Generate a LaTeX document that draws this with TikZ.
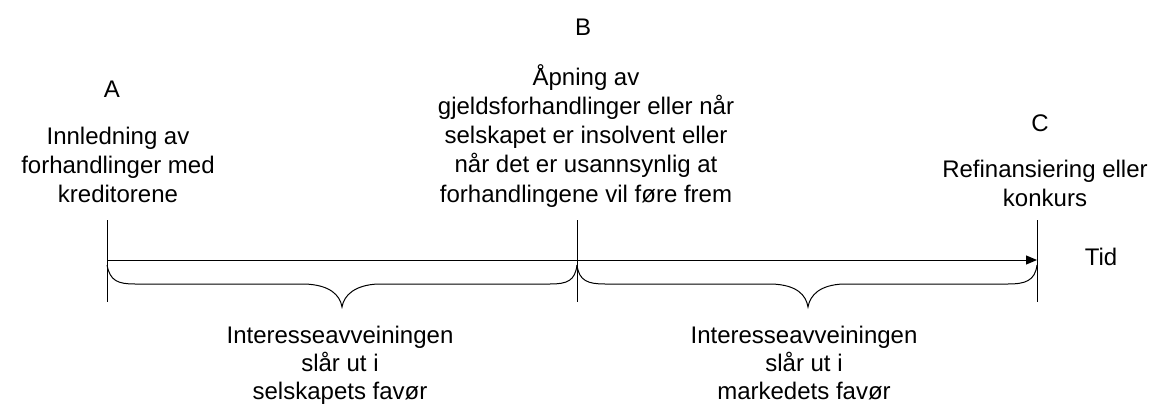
\documentclass[tikz,border=0pt]{standalone}
\usepackage{fontspec}
\setmainfont{Liberation Sans}
\usetikzlibrary{arrows.meta}
\begin{document}
\begin{tikzpicture}[x=1pt,y=-1pt,
  txt/.style={font=\fontsize{24}{29}\selectfont, inner sep=0pt, anchor=base},
  tick/.style={line width=1pt},
  axis/.style={line width=1pt, -{Triangle[length=11pt,width=9pt]}},
  curly/.style={line width=1pt}]
\useasboundingbox (0,0) rectangle (1153,406);

% points on the time axis
\coordinate (tA) at (107,260);
\coordinate (tB) at (577,260);
\coordinate (tC) at (1037,260);

% vertical markers
\draw[tick] ([yshift=40pt]tA) -- ([yshift=-42pt]tA);
\draw[tick] ([yshift=40pt]tB) -- ([yshift=-42pt]tB);
\draw[tick] ([yshift=40pt]tC) -- ([yshift=-42pt]tC);

% time axis
\draw[axis] (tA) -- (tC);
\node[txt] (tid) at (1101,265) {Tid};

% curly braces under the axis
\draw[curly] (107,265) .. controls (110,281) and (118,284) .. (135,284)
  -- (305,284) .. controls (330,285) and (340,295) .. (342,307)
  .. controls (344,295) and (355,285) .. (378,284)
  -- (550,284) .. controls (567,284) and (575,281) .. (577,265);
\draw[curly] (577,265) .. controls (579,281) and (588,284) .. (605,284)
  -- (772,284) .. controls (797,285) and (806,295) .. (808,307)
  .. controls (810,295) and (820,285) .. (843,284)
  -- (1008,284) .. controls (1025,284) and (1035,281) .. (1037,265);

% point A
\node[txt] (A) at (112,98) {A};
\node[txt] (a1) at (118,145) {Innledning av};
\node[txt] (a2) at (118,174) {forhandlinger med};
\node[txt] (a3) at (118,203) {kreditorene};

% point B
\node[txt] (B) at (583,36) {B};
\node[txt] (b1) at (586,86) {Åpning av};
\node[txt] (b2) at (586,115) {gjeldsforhandlinger eller når};
\node[txt] (b3) at (586,144) {selskapet er insolvent eller};
\node[txt] (b4) at (586,173) {når det er usannsynlig at};
\node[txt] (b5) at (586,202) {forhandlingene vil føre frem};

% point C
\node[txt] (C) at (1040,132) {C};
\node[txt] (c1) at (1045,178) {Refinansiering eller};
\node[txt] (c2) at (1045,207) {konkurs};

% interval descriptions
\node[txt] (l1) at (340,343) {Interesseavveiningen};
\node[txt] (l2) at (340,371) {slår ut i};
\node[txt] (l3) at (340,399) {selskapets favør};
\node[txt] (r1) at (804,343) {Interesseavveiningen};
\node[txt] (r2) at (804,371) {slår ut i};
\node[txt] (r3) at (804,399) {markedets favør};
\end{tikzpicture}
\end{document}
